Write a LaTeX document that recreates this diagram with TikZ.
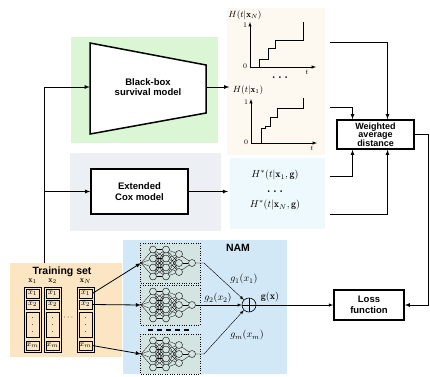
\documentclass[tikz,border=0pt]{standalone}
\usepackage{amsmath}
\usepackage{fontspec}
\setsansfont{Liberation Sans}
\usepackage{tikz}
\usetikzlibrary{arrows}
\definecolor{bbgreen}{RGB}{218,246,212}
\definecolor{coxgray}{RGB}{236,240,244}
\definecolor{curvebg}{RGB}{253,248,240}
\definecolor{starbg}{RGB}{237,249,252}
\definecolor{nambg}{RGB}{210,232,246}
\definecolor{trainbg}{RGB}{251,229,194}
\definecolor{netfill}{RGB}{212,228,224}

\begin{document}
\begin{tikzpicture}[x=1pt,y=-1pt,>=latex,
	box/.style={draw,line width=1.5pt,fill=white,align=center,inner sep=0,
		font=\sffamily\bfseries\fontsize{9.5}{10.5}\selectfont},
	lbl/.style={font=\sffamily\bfseries\fontsize{10.5}{12}\selectfont},
	wire/.style={line width=0.8pt},
	cell/.style={draw,line width=0.6pt,inner sep=0,minimum width=13pt,font=\footnotesize},
	neuron/.style={draw,circle,inner sep=0,minimum size=7pt,fill=netfill,line width=0.4pt},
	netedge/.style={line width=0.3pt},
	dots/.style={font=\large\bfseries,inner sep=0}]
	\useasboundingbox (0,0) rectangle (430,376);

    % --- BACKGROUND PANELS ---
	\fill[bbgreen] (71,37) rectangle (218,143);
	\fill[coxgray] (70,153) rectangle (221,231);
	\fill[curvebg] (227,8) rectangle (325,155);
	\fill[starbg] (230,158) rectangle (325,229);
	\fill[nambg] (123,240) rectangle (287,374);
	\fill[trainbg] (10,263) rectangle (122,357);

    % --- BLACK-BOX AND COX MODELS ---
	\draw[line width=1.5pt,fill=white] (90,43) -- (206,65) -- (206,113) -- (90,134) -- cycle;
	\node[align=center,minimum width=116pt,inner sep=0,
		font=\sffamily\bfseries\fontsize{9.5}{10.5}\selectfont] (bb) at (148,87) {Black-box\\survival model};
	\node[box,minimum width=97pt,minimum height=45pt] (cox) at (139.5,191.5) {Extended\\Cox model};

    % --- CURVES H(t|x) ---
	\node[font=\small] (hN) at (245,15) {$H(t|\mathbf{x}_N)$};
	\draw[->,line width=0.5pt] (250,67) -- (250,22);
	\draw[->,line width=0.5pt] (250,67) -- (316,67);
	\draw[line width=0.6pt] (259,67) -- (259,59) -- (268,59) -- (268,48) -- (275,48) -- (275,40) -- (303,40) -- (303,22);
	\node[font=\scriptsize] (oneN) at (245,25) {1};
	\node[font=\scriptsize] (zeroN) at (245,66) {0};
	\node[font=\scriptsize] (tN) at (307,72) {$t$};
	\node[dots] (dotsH) at (280,78) {.\hspace{2.5pt}.\hspace{2.5pt}.};
	\node[font=\small] (h1) at (248,90) {$H(t|\mathbf{x}_1)$};
	\draw[->,line width=0.5pt] (251,143) -- (251,99);
	\draw[->,line width=0.5pt] (251,143) -- (317,143);
	\draw[line width=0.6pt] (261,143) -- (261,128) -- (265,128) -- (265,126) -- (270,126) -- (270,117) -- (277,117) -- (277,108) -- (303,108) -- (303,98);
	\node[font=\scriptsize] (one1) at (246,102) {1};
	\node[font=\scriptsize] (zero1) at (246,142) {0};
	\node[font=\scriptsize] (t1) at (312,148) {$t$};

    % --- CURVES H*(t|x,g) ---
	\node (hs1) at (275,175) {$H^*(t|\mathbf{x}_1,\mathbf{g})$};
	\node[dots] (dotsS) at (275,192) {.\hspace{2.5pt}.\hspace{2.5pt}.};
	\node (hsN) at (275,205) {$H^*(t|\mathbf{x}_N,\mathbf{g})$};

    % --- WEIGHTED DISTANCE AND LOSS ---
	\node[box,minimum width=77pt,minimum height=29pt,
		font=\sffamily\bfseries\fontsize{9}{8.5}\selectfont] (wad) at (375.5,134.5) {Weighted\\average\\distance};
	\node[box,minimum width=70pt,minimum height=30pt] (loss) at (369,305) {Loss\\function};
	\coordinate (oN) at (330,42);
	\coordinate (o1) at (330,107);
	\coordinate (s1) at (330,176);
	\coordinate (sN) at (330,214);
	\coordinate (rt) at (428,134.5);
	\draw[->,wire] (oN) -| ([xshift=12pt]wad.north);
	\draw[->,wire] (o1) -| ([xshift=-23pt]wad.north);
	\draw[->,wire] (s1) -| ([xshift=-23pt]wad.south);
	\draw[->,wire] (sN) -| ([xshift=12pt]wad.south);
	\draw[->,wire] (wad.east) -- (rt) |- (loss.east);

    % --- TRAINING SET ---
	\node[lbl] (train) at (62,272) {Training set};
	\foreach \c/\x/\t in {1/32.5/1, 2/52.5/2, N/85.5/N} {
		\node[font=\footnotesize,inner sep=0] (hd\c) at (\x,281.5) {$\mathbf{x}_\t$};
		\draw[line width=0.6pt] (\x-8.5,287) rectangle (\x+8.5,352);
		\node[cell,minimum height=9pt] (c\c1) at (\x,293.5) {$x_1$};
		\node[cell,minimum height=9pt] (c\c2) at (\x,304.5) {$x_2$};
		\node[cell,minimum height=25pt,align=center,
			font=\bfseries\fontsize{6}{7}\selectfont] (c\c d) at (\x,325) {.\\.\\.};
		\node[cell,minimum height=9pt] (c\c m) at (\x,345.5) {$x_m$};
	}
	\node[font=\footnotesize] (dotsT) at (69,318) {$\cdots$};
	\coordinate (up) at (44,263);
	\draw[->,wire] (up) |- (bb.west);
	\draw[->,wire] (up) |- (cox.west);
	\draw[->,wire] (bb.east) -- (bb.east -| h1.west);
	\coordinate (hsin) at (228,191.5);
	\draw[->,wire] (cox.east) -- (hsin);

    % --- NAM ---
	\node[lbl] (nam) at (238,248) {NAM};
	\foreach \i/\y in {1/263, 2/305, 3/354} {
		\draw[dotted,fill=netfill] (140,\y-20) rectangle (200,\y+20);
		\coordinate (in\i) at (141,\y);
		\foreach \k in {1,...,4} {
			\node[neuron] (p\i\k) at (153,\y+9*\k-22.5) {};
			\node[neuron] (q\i\k) at (166,\y+9*\k-22.5) {};
		}
		\foreach \k in {1,...,3}
			\node[neuron] (r\i\k) at (179,\y+9*\k-18) {};
		\node[neuron] (out\i) at (192,\y) {};
		\foreach \k in {1,...,4} {
			\draw[netedge] (in\i) -- (p\i\k);
			\foreach \m in {1,...,4} \draw[netedge] (p\i\k) -- (q\i\m);
			\foreach \m in {1,...,3} \draw[netedge] (q\i\k) -- (r\i\m);
		}
		\foreach \m in {1,...,3} \draw[netedge] (r\i\m) -- (out\i);
	}
	\draw[dash pattern=on 5pt off 4pt,line width=1.2pt] (148,330) -- (191,330);
	\draw[->,wire] (cN1.east) -- (in1);
	\draw[->,wire] (cN2.east) -- (in2);
	\draw[->,wire] (cNm.east) -- (in3);

	\node[draw,circle,minimum size=14pt,inner sep=0,line width=0.6pt] (sum) at (249,305) {};
	\draw[line width=0.6pt] (sum.north) -- (sum.south) (sum.west) -- (sum.east);
	\draw[->,line width=0.4pt] (out1) -- ++(12,0) -- (sum.135);
	\draw[->,line width=0.4pt] (out2) -- (sum);
	\draw[->,line width=0.4pt] (out3) -- ++(12,0) -- (sum.225);
	\draw[->,line width=0.5pt] (sum) -- (loss);
	\node (g1) at (244,279) {$g_1(x_1)$};
	\node (g2) at (218,298) {$g_2(x_2)$};
	\node (gm) at (247,335) {$g_m(x_m)$};
	\node (gx) at (270,297) {$\mathbf{g}(\mathbf{x})$};
\end{tikzpicture}
\end{document}
